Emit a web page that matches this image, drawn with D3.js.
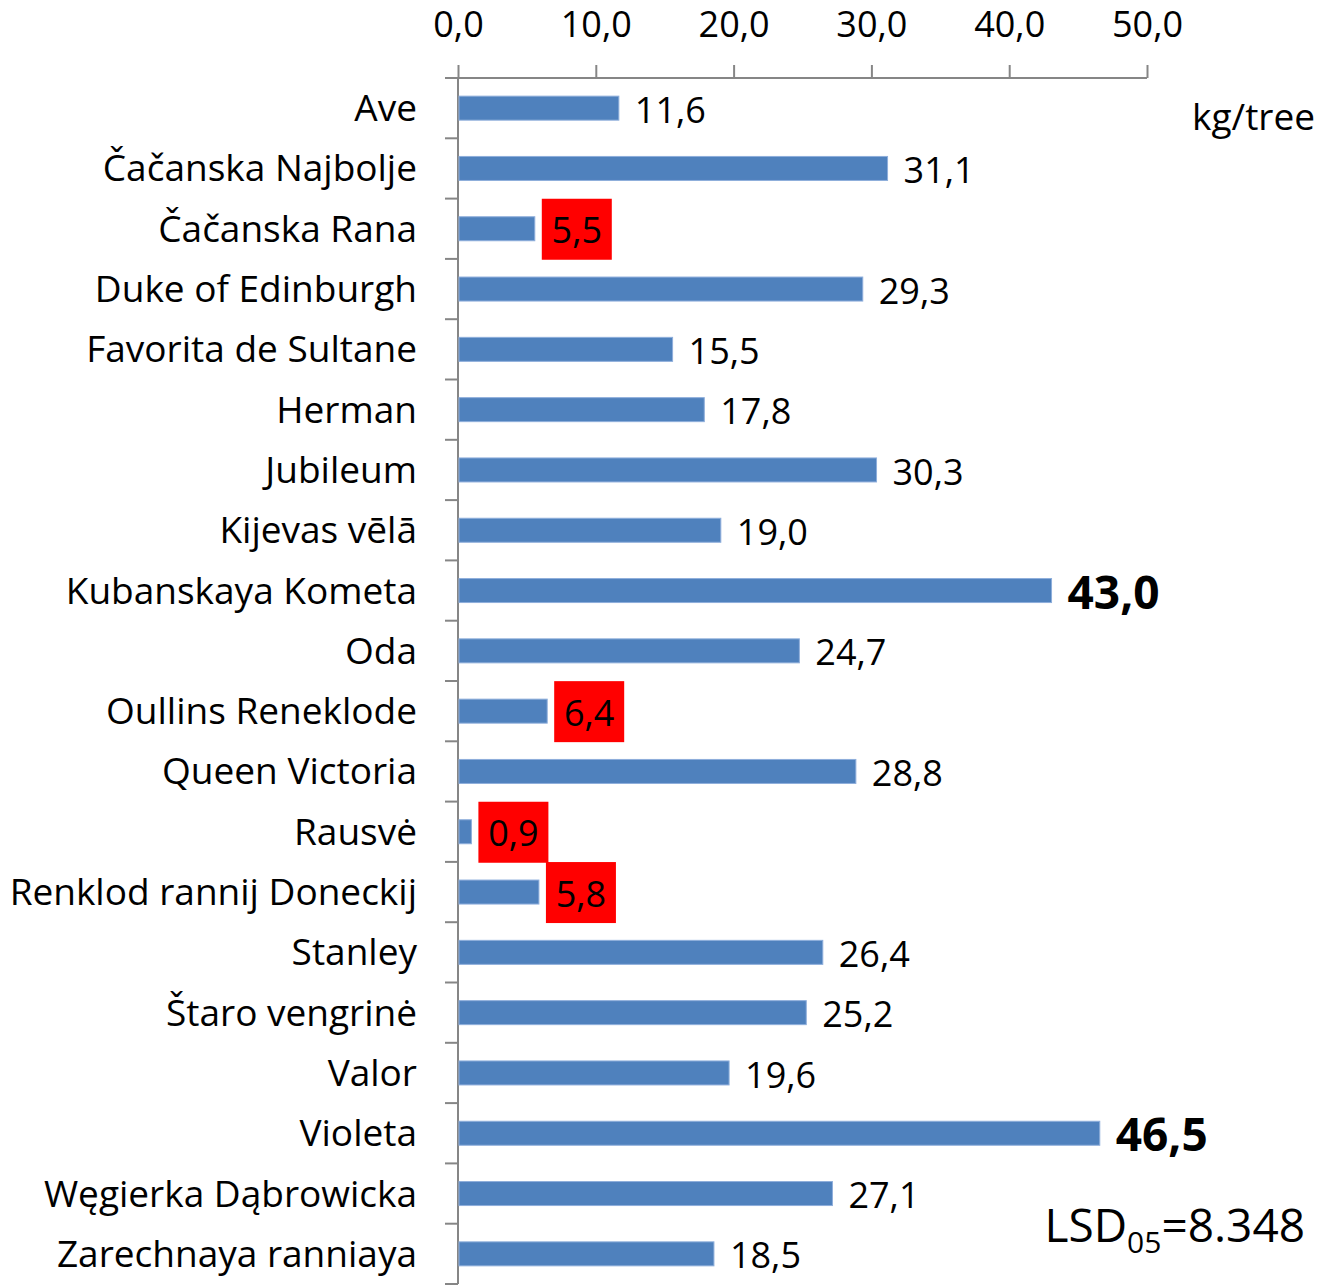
<!DOCTYPE html>
<html>
<head>
<meta charset="utf-8">
<script src="https://cdn.jsdelivr.net/npm/d3@7"></script>
<style>
  body { margin: 0; background: #fff; }
  svg text { font-family: "Open Sans", Lato, sans-serif; }
</style>
</head>
<body>
<svg id="chart" width="1333" height="1286"></svg>
<script>
var varieties = ["Ave", "Čačanska Najbolje", "Čačanska Rana", "Duke of Edinburgh", "Favorita de Sultane",
  "Herman", "Jubileum", "Kijevas vēlā", "Kubanskaya Kometa", "Oda", "Oullins Reneklode",
  "Queen Victoria", "Rausvė", "Renklod rannij Doneckij", "Stanley", "Štaro vengrinė",
  "Valor", "Violeta", "Węgierka Dąbrowicka", "Zarechnaya ranniaya"];
var yields = [11.6, 31.1, 5.5, 29.3, 15.5, 17.8, 30.3, 19.0, 43.0, 24.7, 6.4,
  28.8, 0.9, 5.8, 26.4, 25.2, 19.6, 46.5, 27.1, 18.5];
var lowYield = ["Čačanska Rana", "Oullins Reneklode", "Rausvė", "Renklod rannij Doneckij"];
var topYield = ["Kubanskaya Kometa", "Violeta"];
var xTicks = [0, 10, 20, 30, 40, 50];

var svg = d3.select("#chart");
var plotLeft = 458, plotRight = 1147, plotTop = 78, plotBottom = 1284;
var axisColor = "#868686";
var fs = "37px";

var x = d3.scaleLinear().domain([0, 50]).range([plotLeft, plotRight]);
var y = d3.scaleBand().domain(varieties).range([plotTop, plotBottom]);
var fmt = v => d3.format(".1f")(v).replace(".", ",");

// top value axis
var xAxis = svg.append("g")
  .attr("transform", `translate(0,${plotTop})`)
  .call(d3.axisTop(x).tickValues(xTicks).tickSize(13).tickPadding(28).tickFormat(fmt));
xAxis.select(".domain").attr("d", `M${plotLeft - 13},0H${plotRight}`).attr("stroke", axisColor).attr("stroke-width", 2);
xAxis.selectAll(".tick line").attr("stroke", axisColor).attr("stroke-width", 2);
xAxis.selectAll(".tick text").attr("fill", "#000").style("font-size", "36px");

// left category axis with ticks between bands
var yAxis = svg.append("g").attr("transform", `translate(${plotLeft},0)`);
yAxis.append("line")
  .attr("x1", 0).attr("x2", 0).attr("y1", plotTop).attr("y2", plotBottom)
  .attr("stroke", axisColor).attr("stroke-width", 2);
yAxis.selectAll(".sep")
  .data(varieties)
  .enter().append("line")
  .attr("x1", -13).attr("x2", 0)
  .attr("y1", d => y(d) + y.bandwidth()).attr("y2", d => y(d) + y.bandwidth())
  .attr("stroke", axisColor).attr("stroke-width", 2);
yAxis.selectAll(".cat")
  .data(varieties)
  .enter().append("text")
  .attr("x", -41)
  .attr("y", d => y(d) + y.bandwidth() / 2)
  .attr("dy", "0.35em")
  .attr("text-anchor", "end")
  .style("font-size", fs)
  .text(d => d);

// bars
var barH = 24;
svg.selectAll(".bar")
  .data(varieties)
  .enter().append("rect")
  .attr("x", x(0) + 1)
  .attr("y", d => y(d) + y.bandwidth() / 2 - barH / 2)
  .attr("width", (d, i) => x(yields[i]) - x(0))
  .attr("height", barH)
  .attr("fill", "#4f81bd")
  .attr("stroke", "#8eaedb")
  .attr("stroke-width", 1);

// value labels
varieties.forEach((d, i) => {
  var cy = y(d) + y.bandwidth() / 2;
  var bx = x(yields[i]);
  if (lowYield.includes(d)) {
    svg.append("rect")
      .attr("x", bx + 8).attr("y", cy - 30)
      .attr("width", 70).attr("height", 61)
      .attr("fill", "#ff0000");
    svg.append("text")
      .attr("x", bx + 43).attr("y", cy + 2)
      .attr("dy", "0.35em")
      .attr("text-anchor", "middle")
      .style("font-size", "36px")
      .text(fmt(yields[i]));
  } else {
    var big = topYield.includes(d);
    svg.append("text")
      .attr("x", bx + 17).attr("y", cy + 2)
      .attr("dy", "0.35em")
      .style("font-size", big ? "46px" : "36px")
      .style("font-weight", big ? "bold" : "normal")
      .text(fmt(yields[i]));
  }
});

// unit label
svg.append("text")
  .attr("x", 1315).attr("y", 130)
  .attr("text-anchor", "end")
  .style("font-size", fs)
  .text("kg/tree");

// LSD note
var lsd = svg.append("text")
  .attr("x", 1305).attr("y", 1242)
  .attr("text-anchor", "end")
  .style("font-size", "46px");
lsd.append("tspan").text("LSD");
lsd.append("tspan").attr("dy", 11).style("font-size", "30px").text("05");
lsd.append("tspan").attr("dy", -11).text("=8.348");
</script>
</body>
</html>
